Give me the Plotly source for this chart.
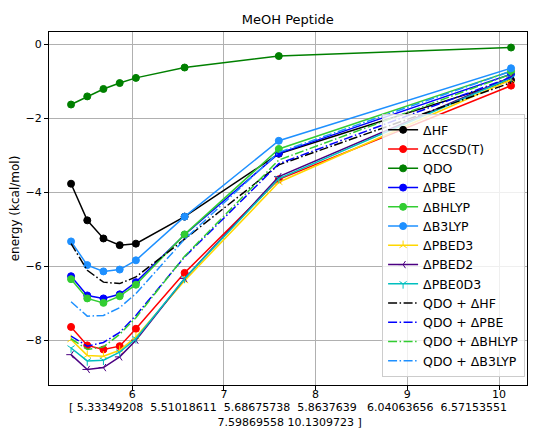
import plotly.graph_objects as go

x = [5.33349208, 5.51018611, 5.68675738, 5.8637639, 6.04063656, 6.57153551, 7.59869558, 10.1309723]

hf = [-3.76, -4.75, -5.24, -5.42, -5.38, -4.65, -2.95, -0.96]
ccsdt = [-7.63, -8.13, -8.24, -8.15, -7.68, -6.17, -3.64, -1.11]
qdo = [-1.62, -1.40, -1.20, -1.04, -0.90, -0.62, -0.31, -0.08]
pbe = [-6.26, -6.78, -6.86, -6.75, -6.42, -5.14, -2.94, -0.80]
bhlyp = [-6.34, -6.86, -6.98, -6.80, -6.49, -5.13, -2.82, -0.72]
b3lyp = [-5.32, -5.96, -6.13, -6.08, -5.83, -4.65, -2.60, -0.64]
pbed3 = [-7.97, -8.40, -8.42, -8.26, -7.90, -6.38, -3.72, -0.95]
pbed2 = [-8.38, -8.78, -8.73, -8.44, -7.99, -6.32, -3.57, -0.88]
pbe0d3 = [-8.20, -8.55, -8.53, -8.31, -7.95, -6.32, -3.62, -0.90]
qdo_hf = [-5.38, -6.10, -6.42, -6.46, -6.28, -5.26, -3.25, -1.03]
qdo_pbe = [-7.88, -8.15, -8.05, -7.78, -7.32, -5.74, -3.22, -0.88]
qdo_bhlyp = [-7.95, -8.24, -8.17, -7.83, -7.38, -5.72, -3.12, -0.80]
qdo_b3lyp = [-6.95, -7.34, -7.32, -7.11, -6.73, -5.26, -2.91, -0.72]

x_ticks = [6, 7, 8, 9, 10]
y_ticks = [0, -2, -4, -6, -8]

xlabel = ("[ 5.33349208\u00a0 5.51018611\u00a0 5.68675738\u00a0 5.8637639\u00a0\u00a0 6.04063656\u00a0 6.57153551"
          "<br>\u00a07.59869558 10.1309723 ]")

FONT = "DejaVu Sans"
DASHDOT = "9px,2.5px,1.5px,2.5px"

series = [
    ("\u0394HF", hf, "black", "circle", "solid"),
    ("\u0394CCSD(T)", ccsdt, "red", "circle", "solid"),
    ("QDO", qdo, "green", "circle", "solid"),
    ("\u0394PBE", pbe, "blue", "circle", "solid"),
    ("\u0394BHLYP", bhlyp, "limegreen", "circle", "solid"),
    ("\u0394B3LYP", b3lyp, "dodgerblue", "circle", "solid"),
    ("\u0394PBED3", pbed3, "gold", "y-up-open", "solid"),
    ("\u0394PBED2", pbed2, "indigo", "y-left-open", "solid"),
    ("\u0394PBE0D3", pbe0d3, "#00bfbf", "y-down-open", "solid"),
    ("QDO + \u0394HF", qdo_hf, "black", None, DASHDOT),
    ("QDO + \u0394PBE", qdo_pbe, "blue", None, DASHDOT),
    ("QDO + \u0394BHLYP", qdo_bhlyp, "limegreen", None, DASHDOT),
    ("QDO + \u0394B3LYP", qdo_b3lyp, "dodgerblue", None, DASHDOT),
]

fig = go.Figure()
for name, ys, color, sym, dash in series:
    if sym is None:
        fig.add_trace(go.Scatter(x=x, y=ys, name=name, mode="lines",
                                 line=dict(color=color, width=1.5, dash=dash)))
    else:
        mk = dict(color=color, symbol=sym, size=7 if sym == "circle" else 6,
                  line=dict(color=color, width=1))
        fig.add_trace(go.Scatter(x=x, y=ys, name=name, mode="lines+markers",
                                 line=dict(color=color, width=1.5, dash=dash), marker=mk))

fig.update_layout(
    width=533, height=430,
    margin=dict(l=49, r=6, t=32, b=45),
    paper_bgcolor="white", plot_bgcolor="white",
    font=dict(family=FONT, size=11, color="black"),
    title=dict(text="MeOH Peptide", x=0.54, xanchor="center", y=0.955, yanchor="middle",
               font=dict(family=FONT, size=13, color="black")),
    showlegend=True,
    legend=dict(x=0.996, xanchor="right", y=0.022, yanchor="bottom",
                bgcolor="rgba(255,255,255,0.8)", bordercolor="#cccccc", borderwidth=1,
                font=dict(family=FONT, size=12.5, color="black"), itemwidth=30,
                tracegroupgap=0),
)
fig.update_xaxes(range=[5.093, 10.305], tickvals=x_ticks, ticktext=[str(t) for t in x_ticks],
                 showgrid=True, gridcolor="#b0b0b0", gridwidth=1,
                 showline=True, linecolor="black", linewidth=1, mirror=True,
                 ticks="outside", ticklen=4, tickcolor="black", zeroline=False,
                 automargin=False, ticklabelstandoff=-5,
                 title=dict(text=xlabel, standoff=3, font=dict(family=FONT, size=11)))
fig.update_yaxes(range=[-9.20, 0.34], tickvals=y_ticks,
                 showgrid=True, gridcolor="#b0b0b0", gridwidth=1,
                 showline=True, linecolor="black", linewidth=1, mirror=True,
                 ticks="outside", ticklen=4, tickcolor="black", zeroline=False,
                 automargin=False,
                 title=dict(text="energy (kcal/mol)", standoff=3, font=dict(family=FONT, size=12)))

fig.write_html("out.html")
